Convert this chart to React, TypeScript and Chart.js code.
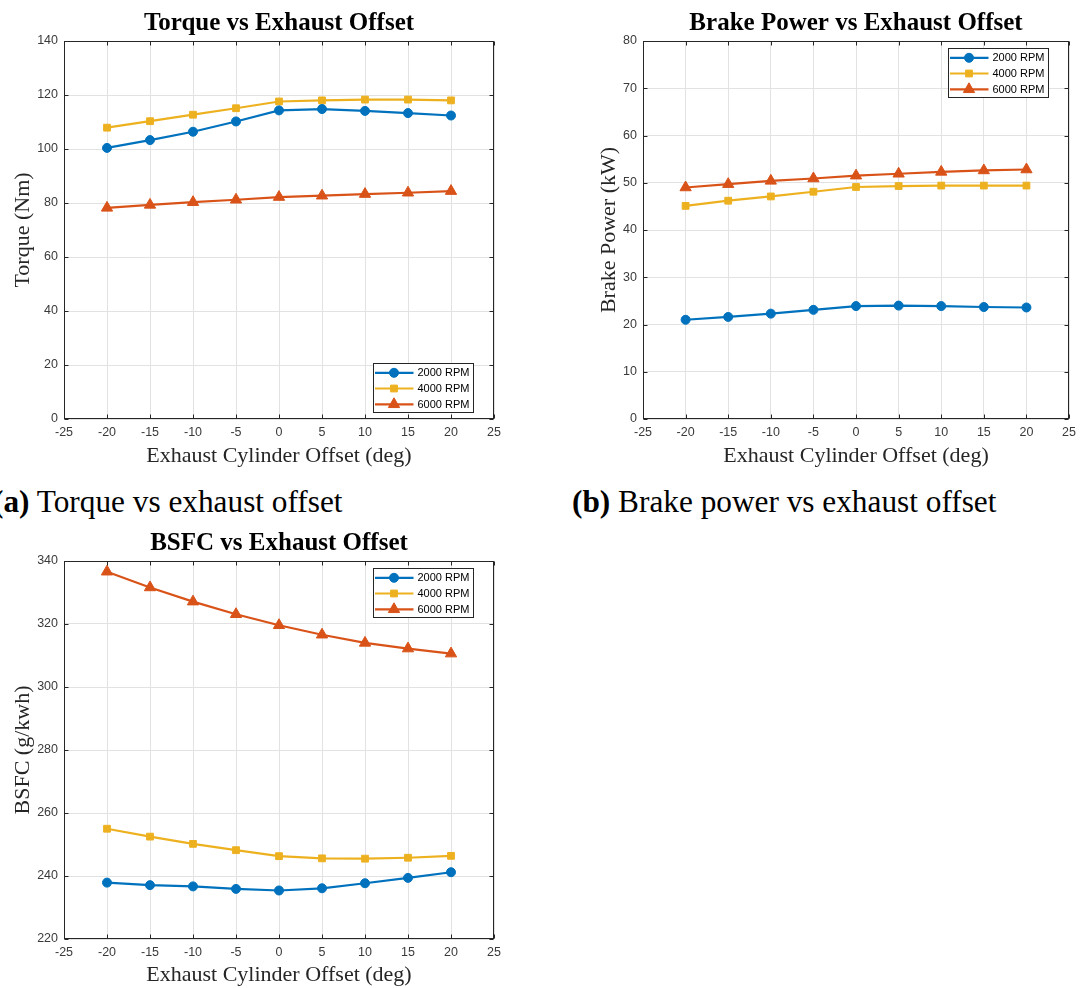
import React, { useEffect, useRef } from "react";
import { Chart, registerables } from "chart.js";

Chart.register(...registerables);

// Exhaust cylinder offset (deg) used for every series
const offsets = [-20, -15, -10, -5, 0, 5, 10, 15, 20];
const rpmLabels = ["2000 RPM", "4000 RPM", "6000 RPM"];

// Torque (Nm)
const torque2000 = [100.4, 103.3, 106.4, 110.2, 114.3, 114.8, 114.1, 113.3, 112.4];
const torque4000 = [107.9, 110.3, 112.7, 115.1, 117.6, 118.0, 118.3, 118.3, 118.0];
const torque6000 = [78.2, 79.3, 80.3, 81.2, 82.2, 82.7, 83.3, 83.8, 84.4];

// Brake power (kW)
const power2000 = [21.0, 21.6, 22.3, 23.1, 23.9, 24.0, 23.9, 23.7, 23.6];
const power4000 = [45.1, 46.2, 47.1, 48.1, 49.1, 49.3, 49.4, 49.4, 49.4];
const power6000 = [49.0, 49.7, 50.4, 50.9, 51.5, 51.9, 52.3, 52.6, 52.8];

// BSFC (g/kWh)
const bsfc2000 = [237.9, 237.1, 236.7, 235.9, 235.4, 236.1, 237.7, 239.4, 241.2];
const bsfc4000 = [255.0, 252.5, 250.2, 248.2, 246.3, 245.6, 245.5, 245.8, 246.4];
const bsfc6000 = [336.6, 331.6, 327.1, 323.1, 319.6, 316.6, 314.0, 312.2, 310.6];

// Axis ranges
const xRange = { min: -25, max: 25, step: 5 };
const torqueRange = { min: 0, max: 140, step: 20 };
const powerRange = { min: 0, max: 80, step: 10 };
const bsfcRange = { min: 220, max: 340, step: 20 };

const seriesColors = ["#0072BD", "#EDB120", "#D95319"];
const markerStyles = ["circle", "rect", "triangle"];
const markerRadius = [4.5, 4.8, 6.5];

const SERIF = "'Liberation Serif', 'Times New Roman', Times, serif";
const SANS = "'Liberation Sans', Arial, Helvetica, sans-serif";
const AXIS_COLOR = "#262626";
const TICK_COLOR = "#3a3a3a";
const GRID_COLOR = "#e2e2e2";

function drawMarker(ctx: CanvasRenderingContext2D, style: string, x: number, y: number, r: number, color: string) {
  ctx.fillStyle = color;
  ctx.strokeStyle = color;
  ctx.lineWidth = 1;
  ctx.beginPath();
  if (style === "circle") {
    ctx.arc(x, y, r, 0, Math.PI * 2);
  } else if (style === "rect") {
    const s = r * Math.SQRT1_2;
    ctx.rect(x - s, y - s, 2 * s, 2 * s);
  } else {
    ctx.moveTo(x, y - r);
    ctx.lineTo(x + r * Math.sin((2 * Math.PI) / 3), y + r * 0.5);
    ctx.lineTo(x - r * Math.sin((2 * Math.PI) / 3), y + r * 0.5);
    ctx.closePath();
  }
  ctx.fill();
  ctx.stroke();
}

// Box around the plot area with short inward tick marks on all four sides
const framePlugin = {
  id: "frame",
  afterDraw(chart: any) {
    const { ctx, chartArea } = chart;
    const { left, right, top, bottom } = chartArea;
    const xs = chart.scales.x;
    const ys = chart.scales.y;
    const L = Math.round(left) + 0.5;
    const R = Math.round(right) - 0.5;
    const T = Math.round(top) + 0.5;
    const B = Math.round(bottom) - 0.5;
    const len = 4;
    ctx.save();
    ctx.strokeStyle = AXIS_COLOR;
    ctx.lineWidth = 1;
    ctx.beginPath();
    xs.ticks.forEach((t: any) => {
      const px = Math.round(xs.getPixelForValue(t.value)) + 0.5;
      ctx.moveTo(px, B);
      ctx.lineTo(px, B - len);
      ctx.moveTo(px, T);
      ctx.lineTo(px, T + len);
    });
    ys.ticks.forEach((t: any) => {
      const py = Math.round(ys.getPixelForValue(t.value)) + 0.5;
      ctx.moveTo(L, py);
      ctx.lineTo(L + len, py);
      ctx.moveTo(R, py);
      ctx.lineTo(R - len, py);
    });
    ctx.stroke();
    ctx.strokeRect(L, T, R - L, B - T);
    ctx.restore();
  },
};

// Legend box drawn inside a corner of the plot area
const insetLegendPlugin = {
  id: "insetLegend",
  afterDraw(chart: any, _args: any, opts: any) {
    const { ctx, chartArea } = chart;
    const boxW = 100;
    const boxH = 49;
    const x0 = Math.round(chartArea.right - opts.insetX - boxW) + 0.5;
    const y0 =
      opts.corner === "bottom"
        ? Math.round(chartArea.bottom - opts.insetY - boxH) + 0.5
        : Math.round(chartArea.top + opts.insetY) + 0.5;
    ctx.save();
    ctx.fillStyle = "#ffffff";
    ctx.fillRect(x0, y0, boxW, boxH);
    ctx.strokeStyle = AXIS_COLOR;
    ctx.lineWidth = 1;
    ctx.strokeRect(x0, y0, boxW, boxH);
    const rows = [9.3, 25, 40.8];
    chart.data.datasets.forEach((ds: any, i: number) => {
      const cy = y0 + rows[i];
      ctx.strokeStyle = ds.borderColor;
      ctx.lineWidth = 2.2;
      ctx.beginPath();
      ctx.moveTo(x0 + 1.5, cy);
      ctx.lineTo(x0 + 40, cy);
      ctx.stroke();
      drawMarker(ctx, ds.pointStyle, x0 + 20.5, cy, ds.pointRadius, ds.borderColor);
      ctx.fillStyle = "#000000";
      ctx.font = `11px ${SANS}`;
      ctx.textAlign = "left";
      ctx.textBaseline = "middle";
      ctx.fillText(ds.label, x0 + 44, cy + 0.5);
    });
    ctx.restore();
  },
};

type PanelSpec = {
  left: number;
  top: number;
  w: number;
  h: number;
  plotLeft: number;
  plotRight: number;
  title: string;
  yTitle: string;
  yTitlePad: number;
  yRange: { min: number; max: number; step: number };
  series: number[][];
  legendCorner: "top" | "bottom";
};

function makeConfig(p: PanelSpec): any {
  return {
    type: "line",
    data: {
      datasets: p.series.map((vals, i) => ({
        label: rpmLabels[i],
        data: offsets.map((x, j) => ({ x, y: vals[j] })),
        borderColor: seriesColors[i],
        backgroundColor: seriesColors[i],
        pointBackgroundColor: seriesColors[i],
        pointBorderColor: seriesColors[i],
        pointStyle: markerStyles[i],
        pointRadius: markerRadius[i],
        pointBorderWidth: 1,
        borderWidth: 2.2,
        tension: 0,
        clip: false,
      })),
    },
    options: {
      responsive: false,
      maintainAspectRatio: false,
      animation: false,
      devicePixelRatio: 1,
      layout: { padding: { left: 0, top: 0, right: p.w - p.plotRight, bottom: 0 } },
      plugins: {
        legend: { display: false },
        tooltip: { enabled: false },
        title: {
          display: true,
          text: p.title,
          fullSize: false,
          color: "#000000",
          font: { family: SERIF, size: 25, weight: "bold", lineHeight: 1.2 },
          padding: { top: 8.5, bottom: 2.5 },
        },
        insetLegend: { corner: p.legendCorner, insetX: 21, insetY: 7 },
      },
      scales: {
        x: {
          type: "linear",
          min: xRange.min,
          max: xRange.max,
          afterFit: (s: any) => {
            s.height = p.h - 419;
          },
          ticks: {
            stepSize: xRange.step,
            autoSkip: false,
            maxRotation: 0,
            padding: 6,
            color: TICK_COLOR,
            font: { family: SANS, size: 12.5 },
          },
          grid: { color: GRID_COLOR, drawTicks: false },
          border: { display: false },
          title: {
            display: true,
            text: "Exhaust Cylinder Offset (deg)",
            color: AXIS_COLOR,
            font: { family: SERIF, size: 22, lineHeight: 1.2 },
            padding: { top: 0, bottom: Math.max(0, p.h - 13.2 - 456.5) },
          },
        },
        y: {
          type: "linear",
          min: p.yRange.min,
          max: p.yRange.max,
          afterFit: (s: any) => {
            s.width = p.plotLeft;
          },
          ticks: {
            stepSize: p.yRange.step,
            padding: 6,
            color: TICK_COLOR,
            font: { family: SANS, size: 12.5 },
          },
          grid: { color: GRID_COLOR, drawTicks: false },
          border: { display: false },
          title: {
            display: true,
            text: p.yTitle,
            color: AXIS_COLOR,
            font: { family: SERIF, size: 22, lineHeight: 1.2 },
            padding: { top: p.yTitlePad, bottom: 0 },
          },
        },
      },
    },
    plugins: [framePlugin, insetLegendPlugin],
  };
}

const panels: PanelSpec[] = [
  {
    left: 0,
    top: 0,
    w: 520,
    h: 470,
    plotLeft: 64,
    plotRight: 494,
    title: "Torque vs Exhaust Offset",
    yTitle: "Torque (Nm)",
    yTitlePad: 9.8,
    yRange: torqueRange,
    series: [torque2000, torque4000, torque6000],
    legendCorner: "bottom",
  },
  {
    left: 580,
    top: 0,
    w: 502,
    h: 470,
    plotLeft: 63,
    plotRight: 493,
    title: "Brake Power vs Exhaust Offset",
    yTitle: "Brake Power (kW)",
    yTitlePad: 16,
    yRange: powerRange,
    series: [power2000, power4000, power6000],
    legendCorner: "top",
  },
  {
    left: 0,
    top: 520,
    w: 520,
    h: 468,
    plotLeft: 64,
    plotRight: 494,
    title: "BSFC vs Exhaust Offset",
    yTitle: "BSFC (g/kwh)",
    yTitlePad: 10,
    yRange: bsfcRange,
    series: [bsfc2000, bsfc4000, bsfc6000],
    legendCorner: "top",
  },
];

function Panel({ spec }: { spec: PanelSpec }) {
  const ref = useRef<HTMLCanvasElement | null>(null);
  useEffect(() => {
    if (!ref.current) return;
    const chart = new Chart(ref.current, makeConfig(spec));
    return () => chart.destroy();
  }, [spec]);
  return (
    <canvas
      ref={ref}
      width={spec.w}
      height={spec.h}
      style={{ position: "absolute", left: spec.left, top: spec.top, width: spec.w, height: spec.h }}
    />
  );
}

const captionStyle: React.CSSProperties = {
  position: "absolute",
  top: 486,
  fontFamily: SERIF,
  fontSize: 31.3,
  lineHeight: "31px",
  color: "#000000",
  whiteSpace: "nowrap",
};

export default function App() {
  return (
    <div
      style={{
        position: "absolute",
        left: 0,
        top: 0,
        width: 1082,
        height: 988,
        overflow: "hidden",
        background: "#ffffff",
      }}
    >
      {panels.map((p, i) => (
        <Panel key={i} spec={p} />
      ))}
      <div style={{ ...captionStyle, left: -7 }}>
        <b>(a)</b> Torque vs exhaust offset
      </div>
      <div style={{ ...captionStyle, left: 572 }}>
        <b>(b)</b> Brake power vs exhaust offset
      </div>
    </div>
  );
}
